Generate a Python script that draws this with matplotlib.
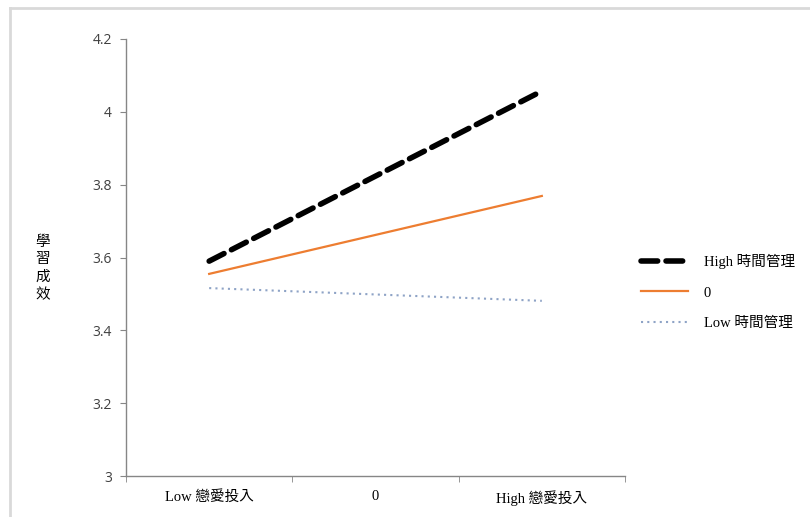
import matplotlib
matplotlib.use("Agg")
import matplotlib.pyplot as plt
from matplotlib.lines import Line2D

# categorías do eixo x
categorias = ["Low 戀愛投入", "0", "High 戀愛投入"]
pos_linhas = [0, 2]

# séries
high_tm = [3.59, 4.057]
zero_tm = [3.555, 3.769]
low_tm = [3.516, 3.481]
nomes = ["High 時間管理", "0", "Low 時間管理"]

yticks = [3, 3.2, 3.4, 3.6, 3.8, 4, 4.2]
ylabels = ["3", "3.2", "3.4", "3.6", "3.8", "4", "4.2"]

serif = ["Liberation Serif", "Noto Sans CJK TC"]
sans = ["Open Sans", "DejaVu Sans"]
cinza = "#868686"

fig = plt.figure(figsize=(8.1, 5.17), dpi=100)
ax = fig.add_axes([126/810, 1 - 476/517, (625-126)/810, (476-39)/517])

ax.plot(pos_linhas, high_tm, color="black", lw=4, linestyle=(0, (3, 1.5)),
        dash_capstyle="round", label=nomes[0])
ax.plot(pos_linhas, zero_tm, color="#ED7D31", lw=1.6, label=nomes[1])
ax.plot(pos_linhas, low_tm, color="#8EA3C6", lw=1.5, linestyle=(0, (1, 2)),
        label=nomes[2])

ax.set_xlim(-0.5, 2.5)
ax.set_ylim(3, 4.2)
ax.set_yticks(yticks)
ax.set_yticklabels(ylabels, family=sans, fontsize=10, color="#404040")
ax.set_xticks([0, 1, 2])
ax.set_xticklabels(categorias, family=serif, fontsize=10.5)
ax.set_xticks([-0.5, 0.5, 1.5, 2.5], minor=True)
ax.tick_params(axis="x", which="major", length=0, pad=10)
ax.tick_params(axis="x", which="minor", length=4, color=cinza, direction="out")
ax.tick_params(axis="y", length=4, color=cinza, direction="out", pad=6)

for s in ["top", "right"]:
    ax.spines[s].set_visible(False)
for s in ["left", "bottom"]:
    ax.spines[s].set_color(cinza)
    ax.spines[s].set_linewidth(1)

# rótulo do eixo y (caracteres empilhados)
fig.text(43/810, 1 - 269/517, "學\n習\n成\n效", family=serif, fontsize=10.5,
         ha="center", va="center", linespacing=1.45)

handles = [Line2D([], [], color="black", lw=4, linestyle=(0, (3, 1.5)), dash_capstyle="round"),
           Line2D([], [], color="#ED7D31", lw=1.6),
           Line2D([], [], color="#8EA3C6", lw=1.5, linestyle=(0, (1, 2)))]
fig.legend(handles, nomes, loc="center left", bbox_to_anchor=(628/810, 1 - 292/517),
           frameon=False, prop={"family": serif, "size": 10.5}, handlelength=3.2,
           labelspacing=1.2, handletextpad=1.1)

# moldura do gráfico
fig.add_artist(Line2D([10/810, 10/810], [0, 1 - 8/517], color="#d9d9d9", lw=2,
                      transform=fig.transFigure))
fig.add_artist(Line2D([10/810, 1], [1 - 8/517, 1 - 8/517], color="#d9d9d9", lw=2,
                      transform=fig.transFigure))

fig.savefig("out.png", dpi=100)
plt.close()
